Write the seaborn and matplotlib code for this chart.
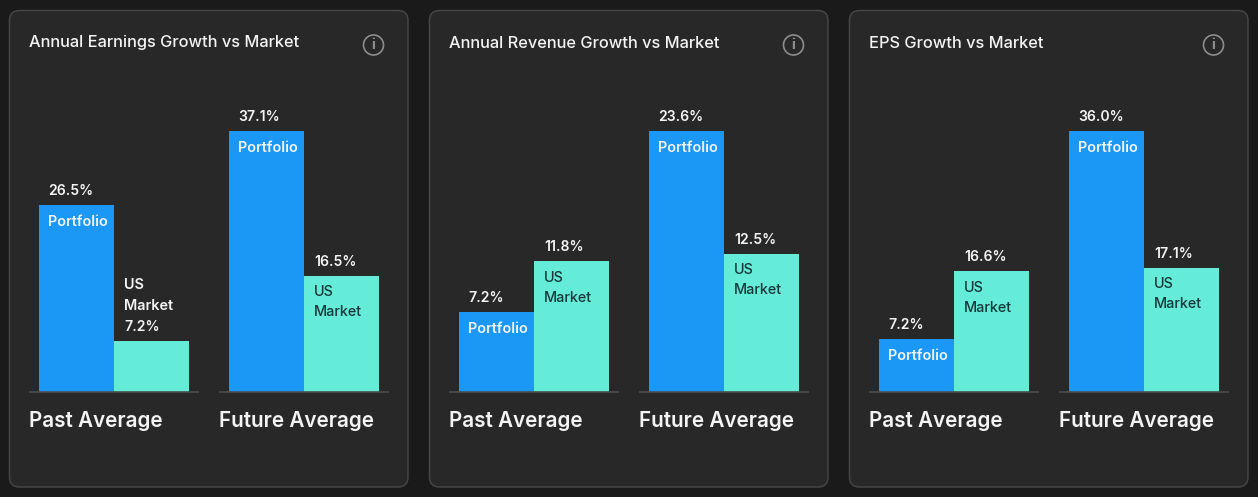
import matplotlib
matplotlib.use("Agg")
import matplotlib.pyplot as plt
from matplotlib.patches import FancyBboxPatch, Circle
import pandas as pd
import seaborn as sns

titles = ["Annual Earnings Growth vs Market", "Annual Revenue Growth vs Market", "EPS Growth vs Market"]
categories = ["Past Average", "Future Average"]
series_names = ["Portfolio", "US Market"]
portfolio_values = [[26.5, 37.1], [7.2, 23.6], [7.2, 36.0]]
market_values = [[7.2, 16.5], [11.8, 12.5], [16.6, 17.1]]

W, H, DPI = 1258, 497, 100
BG, CARD, EDGE = "#1a1a1a", "#282828", "#454545"
BLUE, TEAL = "#1b98f5", "#64ecd9"
DARK = "#17363a"
WHITE = "#f4f4f4"
px = 72 / DPI

sns.set_theme(style="white")
plt.rcParams["font.family"] = ["Inter", "DejaVu Sans"]

fig = plt.figure(figsize=(W / DPI, H / DPI), dpi=DPI, facecolor=BG)
bg = fig.add_axes([0, 0, 1, 1], zorder=0)
bg.set_xlim(0, W)
bg.set_ylim(H, 0)
bg.axis("off")

CARD_X = [9.5, 429.5, 849.5]
BASE_Y, TOP_Y = 391.5, 131.0
GROUP_STEP = 190.0
SPAN = 170.0
half = (SPAN / 2) / GROUP_STEP


def label(ax, text, x, y, dx, dy, color, size=10.4, weight="semibold", va="center"):
    ax.annotate(text, xy=(x, y), xytext=(dx * px, dy * px), textcoords="offset points",
                ha="left", va=va, color=color, fontsize=size, fontweight=weight,
                annotation_clip=False)


for k, cx in enumerate(CARD_X):
    bg.add_patch(FancyBboxPatch((cx + 10, 10.5 + 10), 398.5 - 20, 476.5 - 20,
                                boxstyle="round,pad=10,rounding_size=10",
                                fc=CARD, ec=EDGE, lw=1.1))
    bg.text(cx + 19.5, 47.5, titles[k], color=WHITE, fontsize=11.8, fontweight="medium",
            ha="left", va="baseline")
    bg.add_patch(Circle((cx + 364, 45), 10, fc="none", ec="#8c8c8c", lw=1.2))
    bg.text(cx + 364, 45.2, "i", color="#8c8c8c", fontsize=10.5, fontweight="bold",
            ha="center", va="center")

    left = cx + 19.5
    ax = fig.add_axes([left / W, 1 - BASE_Y / H, (SPAN + 190) / W, (BASE_Y - TOP_Y) / H], zorder=2)
    ax.patch.set_alpha(0)
    df = pd.DataFrame({
        "period": categories * 2,
        "series": [series_names[0]] * 2 + [series_names[1]] * 2,
        "value": portfolio_values[k] + market_values[k],
    })
    sns.barplot(data=df, x="period", y="value", hue="series", order=categories,
                hue_order=series_names, palette=[BLUE, TEAL], width=150 / GROUP_STEP,
                gap=0, saturation=1, legend=False, ax=ax, linewidth=0)
    ax.set_xlim(-half, 1 + half)
    ax.set_ylim(0, max(portfolio_values[k] + market_values[k]))
    ax.set_xlabel("")
    ax.set_ylabel("")
    ax.set_xticks([])
    ax.set_yticks([])
    sns.despine(ax=ax, left=True, bottom=True)

    for i, cat in enumerate(categories):
        ax.hlines(0, i - half, i + half, color="#4d4d4d", lw=1.2, clip_on=False, zorder=1)
        label(ax, cat, i - half, 0, 0, -29.5, WHITE, size=14.9)

    for cont, name in zip(ax.containers, series_names):
        for bar in cont:
            x, v = bar.get_x(), bar.get_height()
            txt = f"{v:.1f}%"
            bar_px = v / ax.get_ylim()[1] * (BASE_Y - TOP_Y)
            if name == "Portfolio":
                label(ax, txt, x, v, 9, 14, WHITE, size=10.1)
                label(ax, "Portfolio", x, v, 9, -16.5, WHITE)
            elif bar_px < 90:
                label(ax, "US", x, v, 10, 55.5, WHITE)
                label(ax, "Market", x, v, 10, 34.5, WHITE)
                label(ax, txt, x, v, 10, 14, WHITE, size=10.1)
            else:
                label(ax, txt, x, v, 10, 14, WHITE, size=10.1)
                label(ax, "US", x, v, 10, -16.5, DARK, weight="medium")
                label(ax, "Market", x, v, 10, -36.5, DARK, weight="medium")

fig.savefig("out.png", dpi=DPI, facecolor=BG)
